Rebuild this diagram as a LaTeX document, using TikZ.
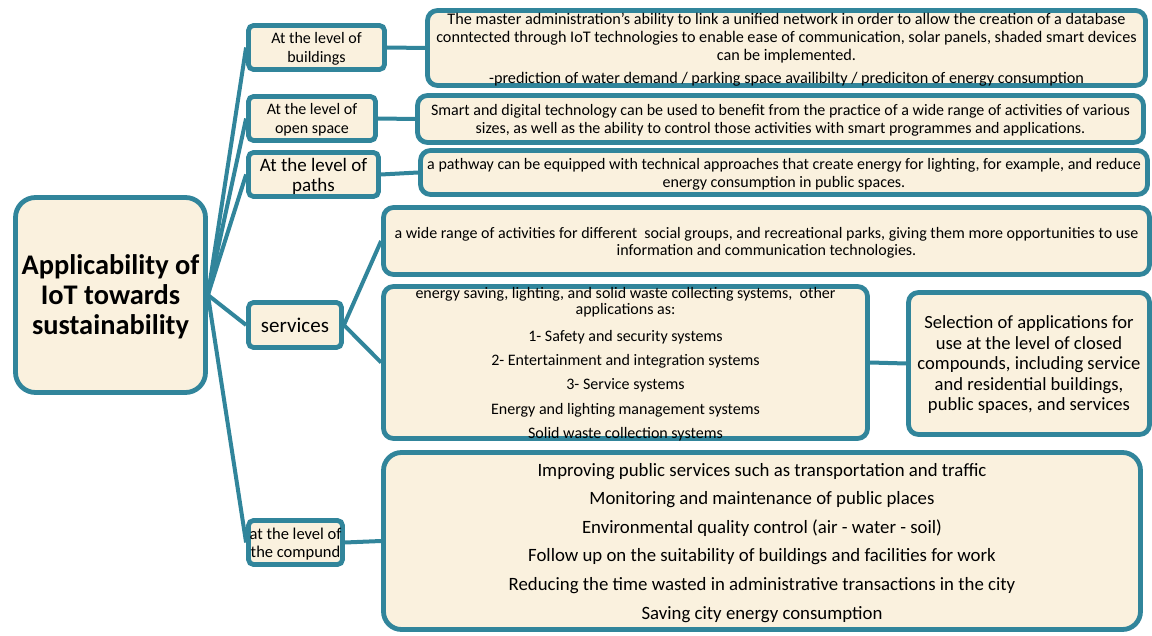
\documentclass[tikz,border=0pt]{standalone}
\usepackage{fontspec}
\setmainfont{Carlito}
\usepackage{tikz}
\usetikzlibrary{positioning, backgrounds}
\definecolor{edgeTeal}{RGB}{49, 133, 155}
\definecolor{boxCream}{RGB}{250, 241, 222}
\tikzset{
    base_box/.style={
        rectangle,
        draw=edgeTeal,
        fill=boxCream,
        line width=4.8pt,
        inner sep=0pt,
        text depth=0pt,
        align=center,
        text=black
    },
    root_box/.style={
        base_box,
        rounded corners=20pt,
        font=\bfseries\fontsize{28.4}{30}\selectfont
    },
    level_box/.style={
        base_box,
        rounded corners=5pt,
        font=\fontsize{16}{19}\selectfont
    },
    info_box/.style={
        base_box,
        rounded corners=10pt,
        font=\fontsize{16}{18}\selectfont
    },
    link_edge/.style={
        draw=edgeTeal,
        line width=4pt
    }
}

\begin{document}
\begin{tikzpicture}[x=1pt, y=-1pt]
    \useasboundingbox (0,0) rectangle (1152,636);

    % root and the levels
    \node[root_box, minimum width=190pt, minimum height=195pt] (root) at (110.5,295)
        {Applicability of\\IoT towards\\sustainability};
    \node[level_box, minimum width=136pt, minimum height=44pt] (bld) at (316.5,47.5)
        {At the level of\\buildings};
    \node[level_box, minimum width=127pt, minimum height=44pt] (open) at (312,118.5)
        {At the level of\\open space};
    \node[level_box, minimum width=130pt, minimum height=44pt,
        font=\fontsize{19}{20}\selectfont] (path) at (313.5,174.5)
        {At the level of\\paths};
    \node[level_box, minimum width=93pt, minimum height=45pt,
        font=\fontsize{21}{22}\selectfont] (srv) at (295,325) {services};
    \node[level_box, minimum width=94pt, minimum height=44pt,
        font=\fontsize{16.5}{18}\selectfont] (cmp) at (295.5,542.5)
        {at the level of\\the compund};

    % descriptions
    \node[info_box, minimum width=718pt, minimum height=75pt,
        font=\fontsize{16.2}{18}\selectfont] (bld_txt) at (786.5,48)
        {The master administration's ability to link a unified network in order to allow the creation of a database\\
         conntected through IoT technologies to enable ease of communication, solar panels, shaded smart devices\\
         can be implemented.\\[5pt]
         -prediction of water demand / parking space availibilty / prediciton of energy consumption};
    \node[info_box, minimum width=726pt, minimum height=47pt] (open_txt) at (780.5,119)
        {Smart and digital technology can be used to benefit from the practice of a wide range of activities of various\\
         sizes, as well as the ability to control those activities with smart programmes and applications.};
    \node[info_box, minimum width=727pt, minimum height=44pt] (path_txt) at (784,172.5)
        {a pathway can be equipped with technical approaches that create energy for lighting, for example, and reduce\\
         energy consumption in public spaces.};
    \node[info_box, minimum width=766pt, minimum height=67pt,
        font=\fontsize{16}{17}\selectfont] (srv_txt) at (766.5,241)
        {a wide range of activities for different\ \ social groups, and recreational parks, giving them more opportunities to use\\
         information and communication technologies.};
    \node[info_box, minimum width=484pt, minimum height=152pt,
        font=\fontsize{16}{16}\selectfont] (apps) at (625.5,362.5)
        {energy saving, lighting, and solid waste collecting systems,\ \ other\\
         applications as:\\[11pt]
         1- Safety and security systems\\[8pt]
         2- Entertainment and integration systems\\[8pt]
         3- Service systems\\[9pt]
         Energy and lighting management systems\\[8pt]
         Solid waste collection systems};
    \node[info_box, minimum width=241pt, minimum height=142pt,
        font=\fontsize{18.6}{20.5}\selectfont] (select) at (1029,363.5)
        {Selection of applications for\\use at the level of closed\\compounds, including service\\
         and residential buildings,\\public spaces, and services};
    \node[info_box, rounded corners=18pt, minimum width=757pt, minimum height=177pt,
        font=\fontsize{18.8}{28.6}\selectfont] (cmp_txt) at (762,541)
        {Improving public services such as transportation and traffic\\
         Monitoring and maintenance of public places\\
         Environmental quality control (air - water - soil)\\
         Follow up on the suitability of buildings and facilities for work\\
         Reducing the time wasted in administrative transactions in the city\\
         Saving city energy consumption};

    \begin{scope}[on background layer]
        \draw[link_edge]
            (root.east) edge (bld.west)
            (root.east) edge (open.west)
            (root.east) edge (path.west)
            (root.east) edge (srv.west)
            (root.east) edge (cmp.west)
            (bld.east) edge (bld_txt.west)
            (open.east) edge (open_txt.west)
            (path.east) edge (path_txt.west)
            (srv.east) edge (srv_txt.west)
            (srv.east) edge (apps.west)
            (apps.east) edge (select.west)
            (cmp.east) edge (cmp_txt.west);
    \end{scope}
\end{tikzpicture}
\end{document}
